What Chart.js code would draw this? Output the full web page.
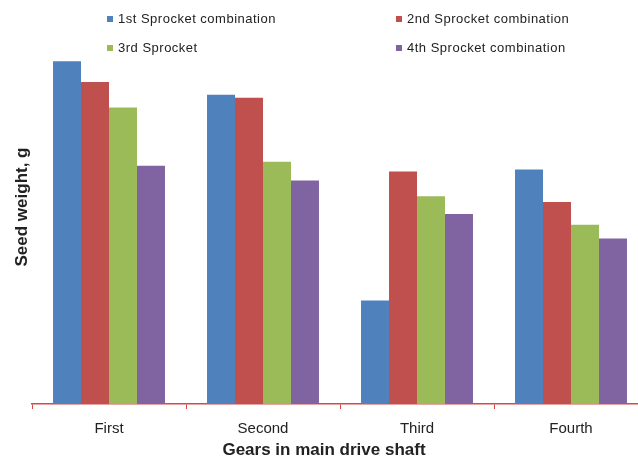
<!DOCTYPE html>
<html>
<head>
<meta charset="utf-8">
<script src="https://cdn.jsdelivr.net/npm/chart.js"></script>
<style>
  html, body { margin: 0; padding: 0; background: #fff; overflow: hidden; }
  #wrap { position: relative; width: 660px; height: 459px; }
  .leg { position: absolute; font: 13px "Liberation Sans", Arial, sans-serif; color: #222; letter-spacing: 0.5px; white-space: nowrap; line-height: 14px; }
  .leg i { display: inline-block; width: 6px; height: 6px; margin-right: 5px; vertical-align: 1px; }
</style>
</head>
<body>
<div id="wrap">
  <canvas id="myChart"></canvas>
</div>

<script>
const gears = ['First', 'Second', 'Third', 'Fourth'];
const seriesNames = ['1st Sprocket combination', '2nd Sprocket combination', '3rd Sprocket', '4th Sprocket combination'];
const seriesColors = ['#4F81BD', '#C0504D', '#9BBB59', '#8064A2'];
const sprocket1 = [34.8, 31.4, 10.5, 23.8];
const sprocket2 = [32.7, 31.1, 23.6, 20.5];
const sprocket3 = [30.1, 24.6, 21.1, 18.2];
const sprocket4 = [24.2, 22.7, 19.3, 16.8];
const allSeries = [sprocket1, sprocket2, sprocket3, sprocket4];

// legend laid out in two columns like the original
const legPos = [[107, 12], [396, 12], [107, 41], [396, 41]];
seriesNames.forEach(function (name, i) {
  const d = document.createElement('div');
  d.className = 'leg';
  d.style.left = legPos[i][0] + 'px';
  d.style.top = legPos[i][1] + 'px';
  d.innerHTML = '<i style="background:' + seriesColors[i] + '"></i>' + name;
  document.getElementById('wrap').appendChild(d);
});

const data = {
  labels: gears,
  datasets: allSeries.map(function (vals, i) {
    return {
      label: seriesNames[i],
      data: vals,
      backgroundColor: seriesColors[i],
      borderWidth: 0,
      barPercentage: 1,
      categoryPercentage: 0.727
    };
  })
};

const config = {
  type: 'bar',
  data: data,
  options: {
    responsive: true,
    maintainAspectRatio: false,
    animation: false,
    layout: { padding: { top: 10, right: 12, left: 0, bottom: 0 } },
    plugins: {
      legend: { display: false },
      tooltip: { enabled: false },
      title: {
        display: true,
        position: 'bottom',
        text: 'Gears in main drive shaft',
        color: '#222',
        font: { family: '"Liberation Sans", Arial, sans-serif', size: 17, weight: 'bold', lineHeight: 1 },
        padding: { top: 6, bottom: 0 }
      }
    },
    scales: {
      x: {
        offset: true,
        grid: { display: true, drawOnChartArea: false, offset: true, tickLength: 5, color: '#D04A4A', lineWidth: 1 },
        border: { display: true, color: '#D04A4A', width: 1.5 },
        ticks: {
          color: '#222',
          padding: 11,
          font: { family: '"Liberation Sans", Arial, sans-serif', size: 15 }
        },
        afterFit: function (s) { s.height = 32; }
      },
      y: {
        min: 0,
        max: 40,
        grid: { display: false },
        border: { display: false },
        ticks: { display: false },
        title: {
          display: true,
          text: 'Seed weight, g',
          color: '#222',
          font: { family: '"Liberation Sans", Arial, sans-serif', size: 17, weight: 'bold', lineHeight: 1 },
          padding: { top: 14, bottom: 1 }
        },
        afterFit: function (s) { s.width = 32; }
      }
    }
  }
};

var myChart = new Chart(document.getElementById('myChart'), config);
</script>
</body>
</html>
